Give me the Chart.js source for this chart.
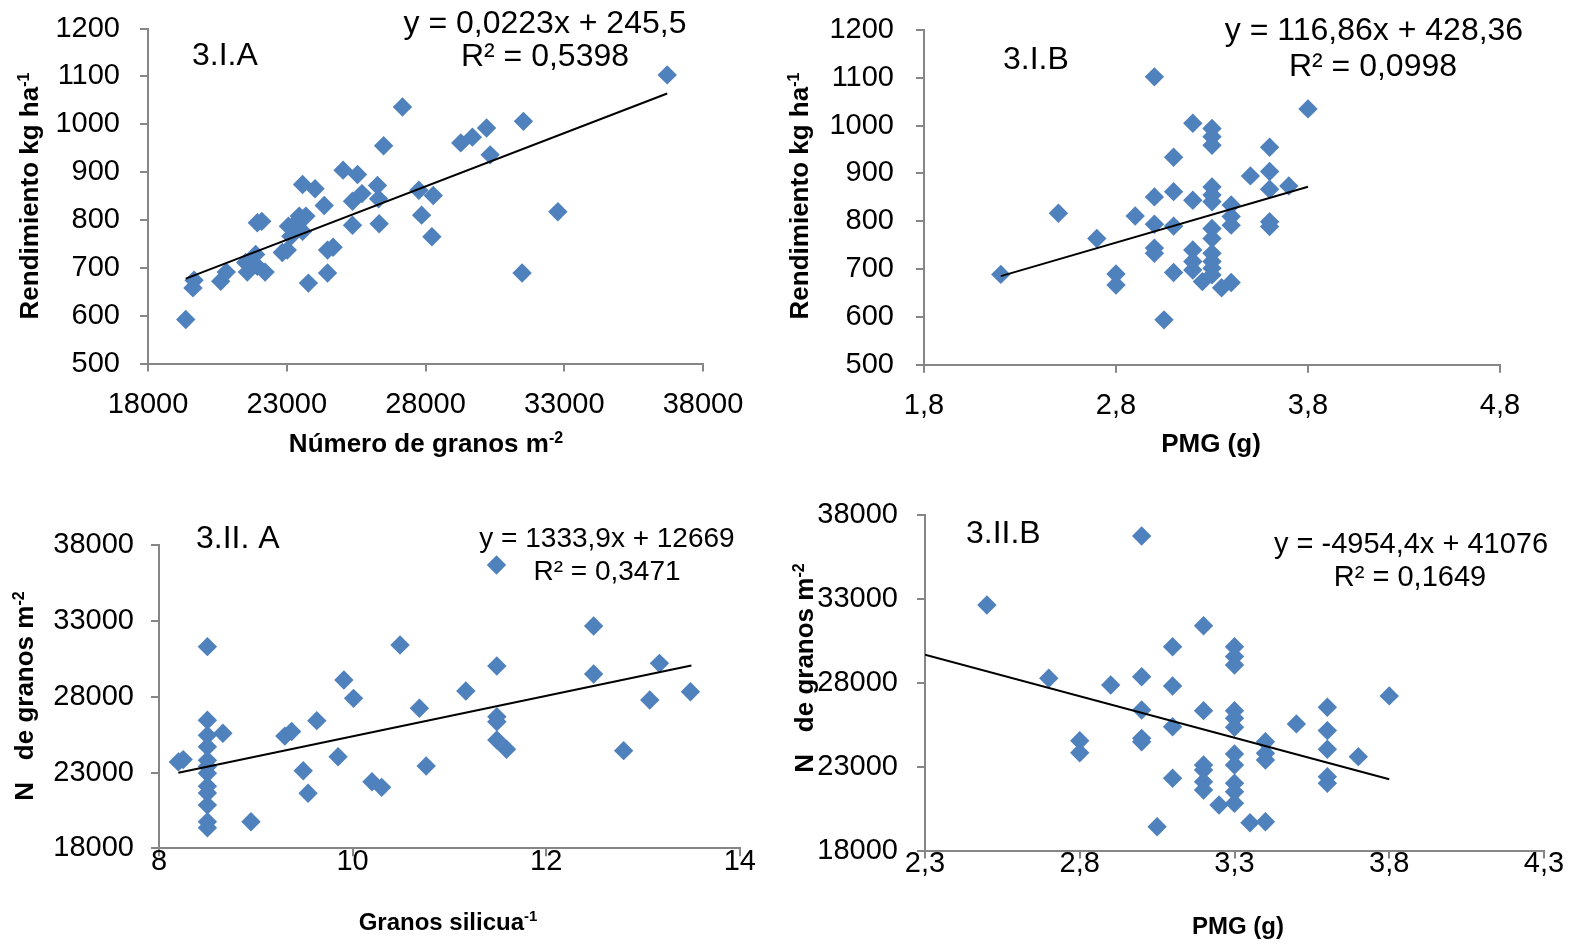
<!DOCTYPE html>
<html>
<head>
<meta charset="utf-8">
<script src="https://cdn.jsdelivr.net/npm/chart.js@4.4.0/dist/chart.umd.min.js"></script>
<style>
  html, body { margin: 0; padding: 0; background: #fff; }
  #wrap { position: relative; width: 1576px; height: 944px; overflow: hidden; }
  #wrap canvas { position: absolute; left: 0; top: 0; }
</style>
</head>
<body>
<div id="wrap">
  <canvas id="c1" width="1576" height="944"></canvas>
  <canvas id="c2" width="1576" height="944"></canvas>
  <canvas id="c3" width="1576" height="944"></canvas>
  <canvas id="c4" width="1576" height="944"></canvas>
</div>
<script>
// ---- 3.I.A : grains per m2 vs yield
const grainsA = [19360, 19660, 19620, 20620, 20820, 21520, 21580, 21880, 21940, 22220, 21940, 22100,
  22840, 23020, 23150, 23060, 23330, 23450, 23690, 23570, 23780, 23570, 24020, 24350, 24470, 24670,
  24470, 25030, 25550, 25370, 25710, 25370, 26270, 26310, 26330, 26490, 27170, 27760, 28280, 27860,
  28230, 29270, 29690, 30200, 30330, 31530, 31480, 32770, 36710];
const yieldA = [592, 674, 658, 672, 691, 711, 691, 728, 703, 691, 794, 797,
  732, 737, 766, 787, 794, 808, 808, 776, 668, 874, 865, 830, 737, 743,
  689, 904, 895, 839, 855, 789, 872, 844, 792, 955, 1036, 862, 851, 810,
  765, 961, 973, 992, 936, 1006, 689, 817, 1103];

// ---- 3.I.B : PMG vs yield
const pmgB = [2.2, 2.5, 2.7, 2.8, 2.8, 2.9, 3.0, 3.2, 3.3, 3.3, 3.3, 3.1, 3.6, 3.8, 3.5, 3.6,
  3.6, 3.7, 3.0, 3.1, 3.3, 3.3, 3.3, 3.2, 3.4, 3.0, 3.1, 3.4, 3.4, 3.3, 3.3, 3.6,
  3.6, 3.0, 3.0, 3.2, 3.3, 3.3, 3.3, 3.2, 3.2, 3.1, 3.25, 3.3, 3.35, 3.4, 3.05];
const yieldB = [689, 817, 764, 690, 667, 811, 1102, 1005, 994, 977, 959, 934, 955, 1035, 895, 904,
  867, 874, 851, 862, 872, 855, 841, 844, 834, 794, 790, 810, 792, 785, 764, 799,
  789, 744, 733, 740, 733, 716, 702, 716, 698, 693, 674, 688, 661, 672, 594];

// ---- 3.II.A : grains per silique vs grains per m2
const silicuaC = [8.2, 8.25, 8.5, 8.5, 8.5, 8.5, 8.5, 8.5, 8.5, 8.5, 8.5, 8.5, 8.5, 8.5,
  8.66, 8.95, 9.3, 9.37, 9.63, 9.49, 9.54, 9.85, 9.91, 10.01, 10.2, 10.3, 10.49, 10.69, 10.76,
  11.17, 11.49, 11.49, 11.49, 11.49, 11.59, 12.49, 12.49, 12.8, 13.07, 13.17, 13.49];
const grainsC = [23700, 23850, 31300, 26450, 25450, 24700, 23800, 23400, 22950, 22100, 21650, 20850, 19750, 19350,
  25590, 19750, 25400, 25700, 26420, 23120, 21630, 24040, 29100, 27890, 22390, 22020, 31410, 27240, 23430,
  28380, 30030, 26680, 26350, 25140, 24530, 32660, 29500, 24440, 27780, 30200, 28330];

// ---- 3.II.B : PMG vs grains per m2
const pmgD = [3.0, 2.5, 2.7, 2.9, 3.0, 3.0, 3.0, 3.0, 2.8, 2.8, 3.05,
  3.2, 3.1, 3.3, 3.3, 3.3, 3.1, 3.2, 3.3, 3.3, 3.3, 3.1, 3.5, 3.6, 3.6, 3.6, 3.7, 3.8,
  3.4, 3.4, 3.4, 3.3, 3.3, 3.2, 3.2, 3.1, 3.2, 3.2, 3.3, 3.3, 3.3, 3.25, 3.6, 3.6, 3.35, 3.4];
const grainsD = [36750, 32640, 28270, 27870, 28360, 26380, 24690, 24490, 24550, 23830, 19420,
  31400, 30150, 30150, 29560, 29060, 27810, 26340, 26340, 25890, 25350, 25380, 25550, 26540, 25150, 24040, 23600, 27220,
  24490, 23800, 23400, 23760, 23100, 23100, 22800, 22310, 22110, 21610, 22010, 21510, 20820, 20720, 22400, 22010, 19660, 19720];

// tick values
const ticksYield = [500, 600, 700, 800, 900, 1000, 1100, 1200];
const ticksGrains = [18000, 23000, 28000, 33000, 38000];
const ticksPmgB = [1.8, 2.8, 3.8, 4.8];
const ticksSilicua = [8, 10, 12, 14];
const ticksPmgD = [2.3, 2.8, 3.3, 3.8, 4.3];

// trendlines: [slope, intercept] and the x range they cover
// (3.II.A: the drawn line sits below its printed intercept, so it is read off the plot)
const trendA = [0.0223, 245.5];
const trendB = [116.86, 428.36];
const trendC = [1333.9, 12050];
const trendD = [-4954.4, 41076];
const trendRangeA = [19360, 36710];
const trendRangeB = [2.2, 3.8];
const trendRangeC = [8.2, 13.5];
const trendRangeD = [2.3, 3.8];

const FONT = '"Liberation Sans", Arial, sans-serif';
const BLUE = '#4F81BD';
const YW = 130; // y axis box width
const XH = 60;  // x axis box height

function drawRich(ctx, parts, x, y, size, bold, align, rot) {
  const main = (bold ? 'bold ' : '') + size + 'px ' + FONT;
  const sup = (bold ? 'bold ' : '') + Math.round(size * 0.62) + 'px ' + FONT;
  ctx.save();
  ctx.translate(x, y);
  if (rot) ctx.rotate(rot);
  let w = 0;
  parts.forEach(p => { ctx.font = p.sup ? sup : main; w += ctx.measureText(p.t).width; });
  let cx = align === 'center' ? -w / 2 : (align === 'right' ? -w : 0);
  ctx.textBaseline = 'alphabetic';
  ctx.textAlign = 'left';
  ctx.fillStyle = '#000';
  parts.forEach(p => {
    ctx.font = p.sup ? sup : main;
    ctx.fillText(p.t, cx, p.sup ? -size * 0.36 : 0);
    cx += ctx.measureText(p.t).width;
  });
  ctx.restore();
}

// draws panel label, equation and axis titles
const notesPlugin = {
  id: 'notes',
  afterDraw(chart, args, opts) {
    const ctx = chart.ctx;
    (opts.items || []).forEach(it => {
      drawRich(ctx, it.parts, it.x, it.y, it.size, it.bold, it.align || 'left', it.rot || 0);
    });
    if (opts.diamond) {
      const d = opts.diamond;
      ctx.save();
      ctx.fillStyle = BLUE;
      ctx.beginPath();
      ctx.moveTo(d.x, d.y - d.r);
      ctx.lineTo(d.x + d.r, d.y);
      ctx.lineTo(d.x, d.y + d.r);
      ctx.lineTo(d.x - d.r, d.y);
      ctx.closePath();
      ctx.fill();
      ctx.restore();
    }
  }
};

function axis(pos, min, max, ticks, fmt, pad) {
  return {
    type: 'linear',
    position: pos,
    min: min,
    max: max,
    afterBuildTicks: s => { s.ticks = ticks.map(v => ({ value: v })); },
    afterFit: s => {
      if (pos === 'left') s.width = YW; else s.height = XH;
      // keep the plot area exactly where layout.padding puts it
      s.paddingTop = 0; s.paddingBottom = 0; s.paddingLeft = 0; s.paddingRight = 0;
    },
    grid: { display: true, drawOnChartArea: false, drawTicks: true, tickLength: 8, color: '#868686', lineWidth: 2 },
    border: { display: true, color: '#868686', width: 2 },
    ticks: {
      color: '#000',
      font: { family: FONT, size: 29 },
      padding: pad,
      autoSkip: false,
      maxRotation: 0,
      callback: fmt
    }
  };
}

const intFmt = v => String(v);
const decFmt = v => v.toFixed(1).replace('.', ',');

function makePanel(id, xs, ys, coef, range, area, xAxis, yAxis, notes) {
  const pts = xs.map((x, i) => ({ x: x, y: ys[i] }));
  const trend = range.map(x => ({ x: x, y: coef[0] * x + coef[1] }));
  new Chart(document.getElementById(id), {
    type: 'scatter',
    data: {
      datasets: [
        { data: trend, showLine: true, borderColor: '#000', borderWidth: 2, pointRadius: 0 },
        { data: pts, pointStyle: 'rectRot', pointRadius: 9.7, backgroundColor: BLUE, borderColor: BLUE, borderWidth: 0 }
      ]
    },
    options: {
      responsive: false,
      animation: false,
      events: [],
      layout: {
        padding: {
          left: area.left - YW,
          right: 1576 - area.right,
          top: area.top,
          bottom: 944 - area.bottom - XH
        }
      },
      scales: { x: xAxis, y: yAxis },
      plugins: { legend: { display: false }, tooltip: { enabled: false }, notes: notes }
    },
    plugins: [notesPlugin]
  });
}

// 3.I.A
makePanel('c1', grainsA, yieldA, trendA, trendRangeA,
  { left: 148, right: 703, top: 28.5, bottom: 363.5 },
  axis('bottom', 18000, 38000, ticksGrains, intFmt, 16),
  axis('left', 500, 1200, ticksYield, intFmt, 20),
  { items: [
    { parts: [{ t: '3.I.A' }], x: 192, y: 65, size: 32 },
    { parts: [{ t: 'y = 0,0223x + 245,5' }], x: 545, y: 33, size: 32, align: 'center' },
    { parts: [{ t: 'R² = 0,5398' }], x: 545, y: 66, size: 32, align: 'center' },
    { parts: [{ t: 'Número de granos m' }, { t: '-2', sup: true }], x: 426, y: 452, size: 26, bold: true, align: 'center' },
    { parts: [{ t: 'Rendimiento kg ha' }, { t: '-1', sup: true }], x: 38, y: 196, size: 26, bold: true, align: 'center', rot: -Math.PI / 2 }
  ] });

// 3.I.B
makePanel('c2', pmgB, yieldB, trendB, trendRangeB,
  { left: 924, right: 1500, top: 30, bottom: 364.8 },
  axis('bottom', 1.8, 4.8, ticksPmgB, decFmt, 16),
  axis('left', 500, 1200, ticksYield, intFmt, 22),
  { items: [
    { parts: [{ t: '3.I.B' }], x: 1003, y: 69, size: 32 },
    { parts: [{ t: 'y = 116,86x + 428,36' }], x: 1374, y: 40, size: 32, align: 'center' },
    { parts: [{ t: 'R² = 0,0998' }], x: 1373, y: 76, size: 32, align: 'center' },
    { parts: [{ t: 'PMG (g)' }], x: 1211, y: 452, size: 26, bold: true, align: 'center' },
    { parts: [{ t: 'Rendimiento kg ha' }, { t: '-1', sup: true }], x: 808, y: 196, size: 26, bold: true, align: 'center', rot: -Math.PI / 2 }
  ] });

// 3.II.A
makePanel('c3', silicuaC, grainsC, trendC, trendRangeC,
  { left: 159, right: 739.8, top: 545.1, bottom: 848.3 },
  axis('bottom', 8, 14, ticksSilicua, intFmt, -12),
  axis('left', 18000, 38000, ticksGrains, intFmt, 17),
  { items: [
    { parts: [{ t: '3.II. A' }], x: 196, y: 548, size: 32 },
    { parts: [{ t: 'y = 1333,9x + 12669' }], x: 607, y: 547, size: 28, align: 'center' },
    { parts: [{ t: 'R² = 0,3471' }], x: 607, y: 580, size: 28, align: 'center' },
    { parts: [{ t: 'Granos silicua' }, { t: '-1', sup: true }], x: 448, y: 930, size: 24, bold: true, align: 'center' },
    { parts: [{ t: 'N   de granos m' }, { t: '-2', sup: true }], x: 33, y: 696, size: 26, bold: true, align: 'center', rot: -Math.PI / 2 }
  ], diamond: { x: 496.5, y: 565, r: 9.7 } });

// 3.II.B
makePanel('c4', pmgD, grainsD, trendD, trendRangeD,
  { left: 925, right: 1544, top: 515, bottom: 850.6 },
  axis('bottom', 2.3, 4.3, ticksPmgD, decFmt, -12),
  axis('left', 18000, 38000, ticksGrains, intFmt, 19),
  { items: [
    { parts: [{ t: '3.II.B' }], x: 966, y: 543, size: 32 },
    { parts: [{ t: 'y = -4954,4x + 41076' }], x: 1411, y: 553, size: 29, align: 'center' },
    { parts: [{ t: 'R² = 0,1649' }], x: 1410, y: 586, size: 29, align: 'center' },
    { parts: [{ t: 'PMG (g)' }], x: 1238, y: 934, size: 24, bold: true, align: 'center' },
    { parts: [{ t: 'N   de granos m' }, { t: '-2', sup: true }], x: 813, y: 668, size: 26, bold: true, align: 'center', rot: -Math.PI / 2 }
  ] });
</script>
</body>
</html>
